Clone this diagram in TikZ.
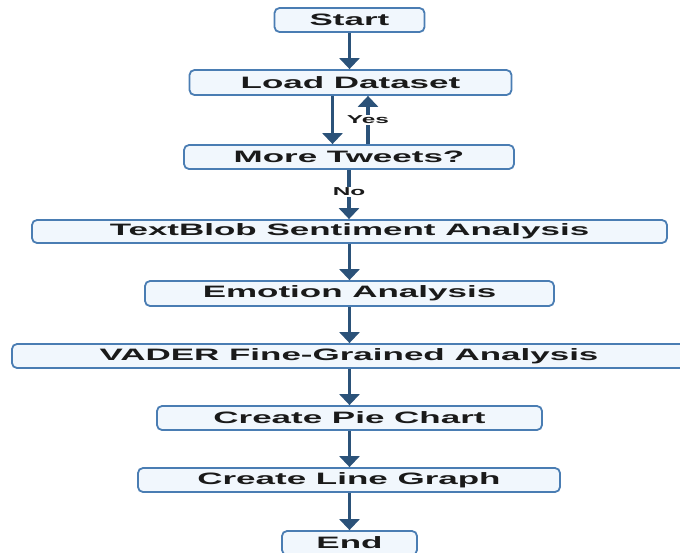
\documentclass[tikz,border=0pt]{standalone}
\usepackage{fontspec}
\setmainfont{Liberation Sans}[FakeStretch=2.12]
\usetikzlibrary{arrows.meta}
\definecolor{boxborder}{HTML}{4A7DB3}
\definecolor{boxfill}{HTML}{F1F7FD}
\definecolor{arrowcol}{HTML}{2B5279}
\definecolor{txt}{HTML}{1A1A1A}
\tikzset{
  box/.style={draw=boxborder, line width=1.8pt, fill=boxfill, rounded corners=5pt,
    minimum height=24pt, inner sep=0pt, text=txt,
    font=\fontsize{16.5}{18}\selectfont\bfseries},
  arr/.style={draw=arrowcol, line width=3.6pt, -{Triangle[width=20pt,length=11pt]}},
  lbl/.style={fill=white, inner sep=1pt, text=txt, font=\fontsize{11.5}{13}\selectfont\bfseries}
}
\begin{document}
\begin{tikzpicture}[x=1pt,y=-1pt]
\useasboundingbox (0,0) rectangle (680,552);
\begin{scope}
\clip (0,0) rectangle (680,552);
\node[box, minimum width=150pt] (start) at (349.5,20) {Start};
\node[box, minimum width=322pt, minimum height=25pt] (load) at (350.5,82.5) {Load Dataset};
\node[box, minimum width=330pt] (more) at (349,157) {More Tweets?};
\node[box, minimum width=635pt, minimum height=23pt] (tb) at (349.5,231.5) {TextBlob Sentiment Analysis};
\node[box, minimum width=409pt, minimum height=25pt] (emo) at (349.5,293.5) {Emotion Analysis};
\node[box, minimum width=674pt] (vader) at (349,356) {VADER Fine-Grained Analysis};
\node[box, minimum width=385pt] (pie) at (349.5,418) {Create Pie Chart};
\node[box, minimum width=422pt] (line) at (349,480) {Create Line Graph};
\node[box, minimum width=135pt] (end) at (349.5,543) {End};

\draw[arr] (start.south) -- (start.south |- load.north);
\draw[arr] ([xshift=-18pt]load.south) -- ([xshift=-18pt]load.south |- more.north);
\draw[arr] ([xshift=19pt]more.north) -- ([xshift=19pt]more.north |- load.south) node[lbl, pos=0.5] {Yes};
\draw[arr] (more.south) -- (more.south |- tb.north) node[lbl, pos=0.45] {No};
\draw[arr] (tb.south) -- (tb.south |- emo.north);
\draw[arr] (emo.south) -- (emo.south |- vader.north);
\draw[arr] (vader.south -| pie.north) -- (pie.north);
\draw[arr] (pie.south) -- (pie.south |- line.north);
\draw[arr] (line.south -| end.north) -- (end.north);
\end{scope}
\end{tikzpicture}
\end{document}
